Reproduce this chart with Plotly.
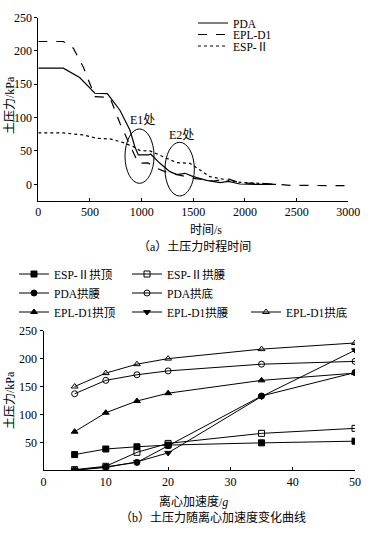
import plotly.graph_objects as go

W, H = 376, 533
FONT = "Liberation Serif, Noto Sans CJK SC, serif"

# ---------- (a) time history ----------
pda_t = [0, 242, 400, 548, 668, 790, 887, 935, 968, 1065, 1087, 1177, 1274, 1339, 1420, 1500, 1629, 1758, 1839, 1952, 2100, 2300]
pda_p = [174, 174, 160, 136.5, 136, 111, 81, 56, 44, 44, 45.5, 31.5, 19, 14.5, 16.5, 11.5, 6, 2.5, 4.5, 0.5, 0, 0]

epl_t = [0, 242, 339, 435, 548, 694, 790, 887, 968, 1060, 1145, 1242, 1371, 1500, 1694, 1839, 1952, 2210, 2436, 2968]
epl_p = [214, 214, 204, 176, 131.5, 130, 91.5, 59, 31.5, 32, 24, 18, 14, 9, 5, 8, 2, 1, -1.5, -2]

esp_t = [0, 242, 435, 565, 694, 823, 919, 984, 1081, 1210, 1339, 1468, 1565, 1661, 1823, 1952, 2210]
esp_p = [77, 77, 74, 69, 68, 62.5, 56.5, 50.5, 50, 41.5, 32.5, 31.5, 21.5, 11.5, 6.5, 3, 1]

top_names = ["PDA", "EPL-D1", "ESP-Ⅱ"]
top_dash = ["solid", "dash", "dot"]

# ellipses marking E1 / E2 (data units: x0, x1, y0, y1)
ellipses = [(839, 1120, 1.5, 83), (1226, 1510, -17.5, 63)]
ellipse_labels = ["E1处", "E2处"]
ellipse_label_pos = [(1013, 96), (1388, 74)]

# ---------- (b) pressure vs acceleration ----------
acc = [5, 10, 15, 20, 35, 50]
esp_top = [28, 38, 42, 45, 49, 52]
esp_waist = [1, 7, 32, 48, 66, 75]
pda_waist = [0, 6, 14, 44, 133, 175]
pda_bottom = [137, 161, 171, 178, 190, 195]
epl_top = [69, 103, 124, 138, 161, 174]
epl_waist = [0, 5, 15, 31, 132, 215]
epl_bottom = [150, 174, 190, 200, 217, 228]

bot_series = [
    ("ESP-Ⅱ拱顶", esp_top, "square"),
    ("ESP-Ⅱ拱腰", esp_waist, "square-open"),
    ("PDA拱腰", pda_waist, "circle"),
    ("PDA拱底", pda_bottom, "circle-open"),
    ("EPL-D1拱顶", epl_top, "triangle-up"),
    ("EPL-D1拱腰", epl_waist, "triangle-down"),
    ("EPL-D1拱底", epl_bottom, "triangle-up-open"),
]

def px(xp):
    return xp / W

def py(yp):
    return 1 - yp / H

fig = go.Figure()

legends = {}
top_leg_rows = [23, 34.5, 46]
for i, (t, p) in enumerate([(pda_t, pda_p), (epl_t, epl_p), (esp_t, esp_p)]):
    lname = "legend" if i == 0 else f"legend{i+1}"
    fig.add_trace(go.Scatter(x=t, y=p, mode="lines", name=top_names[i],
                             line=dict(color="black", width=1.2, dash=top_dash[i]),
                             xaxis="x", yaxis="y", legend=lname))
    legends[lname] = dict(x=px(193), y=py(top_leg_rows[i]), xanchor="left", yanchor="middle")

bot_leg_pos = [(14, 274), (127, 274), (14, 293), (127, 293), (14, 312), (127, 312), (246, 312)]
for j, (name, vals, sym) in enumerate(bot_series):
    lname = f"legend{j+4}"
    fig.add_trace(go.Scatter(x=acc, y=vals, mode="lines+markers", name=name,
                             line=dict(color="black", width=1),
                             marker=dict(symbol=sym, size=6, color="black",
                                         line=dict(color="black", width=1)),
                             xaxis="x2", yaxis="y2", legend=lname))
    lx, ly = bot_leg_pos[j]
    legends[lname] = dict(x=px(lx), y=py(ly), xanchor="left", yanchor="middle")

for k, v in legends.items():
    v.update(bgcolor="rgba(0,0,0,0)", borderwidth=0, font=dict(family=FONT, size=11.5, color="black"),
             itemwidth=30, orientation="v", xref="container", yref="container")
fig.update_layout(**legends)

axis_common = dict(showline=True, linecolor="black", linewidth=1, showgrid=False, zeroline=False,
                   tickfont=dict(family=FONT, size=12, color="black"), tickcolor="black",
                   ticklen=3, mirror=False, automargin=False)

fig.update_layout(
    width=W, height=H, margin=dict(l=0, r=0, t=0, b=0, autoexpand=False),
    paper_bgcolor="white", plot_bgcolor="white", showlegend=True,
    xaxis=dict(domain=[px(38.3), px(348.3)], range=[0, 3000], tickvals=[0, 500, 1000, 1500, 2000, 2500, 3000],
               ticks="inside", anchor="y", **axis_common),
    yaxis=dict(domain=[py(201), py(17.5)], range=[-25, 250], tickvals=[0, 50, 100, 150, 200, 250],
               ticks="outside", anchor="x", **axis_common),
    xaxis2=dict(domain=[px(43.5), px(355)], range=[0, 50], tickvals=[0, 10, 20, 30, 40, 50],
                ticks="inside", anchor="y2", **axis_common),
    yaxis2=dict(domain=[py(470.2), py(330.7)], range=[0, 250], tickvals=[50, 100, 150, 200, 250],
                ticks="outside", anchor="x2", **axis_common),
)

shapes = []
for (x0, x1, y0, y1) in ellipses:
    shapes.append(dict(type="circle", xref="x", yref="y", x0=x0, x1=x1, y0=y0, y1=y1,
                       line=dict(color="black", width=1)))
fig.update_layout(shapes=shapes)

ann = []
for lab, (lx, ly) in zip(ellipse_labels, ellipse_label_pos):
    ann.append(dict(x=lx, y=ly, xref="x", yref="y", text=lab, showarrow=False,
                    font=dict(family=FONT, size=12, color="black")))

def pann(text, xp, yp, angle=0, size=12):
    return dict(x=px(xp), y=py(yp), xref="paper", yref="paper", text=text, showarrow=False,
                textangle=angle, xanchor="center", yanchor="middle",
                font=dict(family=FONT, size=size, color="black"))

ann += [
    pann("土压力/kPa", 10, 105, -90),
    pann("时间/s", 206, 230),
    pann("（a）土压力时程时间", 195, 247),
    pann("土压力/kPa", 10, 400, -90),
    pann("离心加速度/<i>g</i>", 193, 501),
    pann("（b）土压力随离心加速度变化曲线", 213, 517),
]
fig.update_layout(annotations=ann)

# remove the page's default body margin so the figure sits at the window's corner
fig.write_html("out.html", config={"displayModeBar": False},
               post_script="document.body.style.margin='0';")
